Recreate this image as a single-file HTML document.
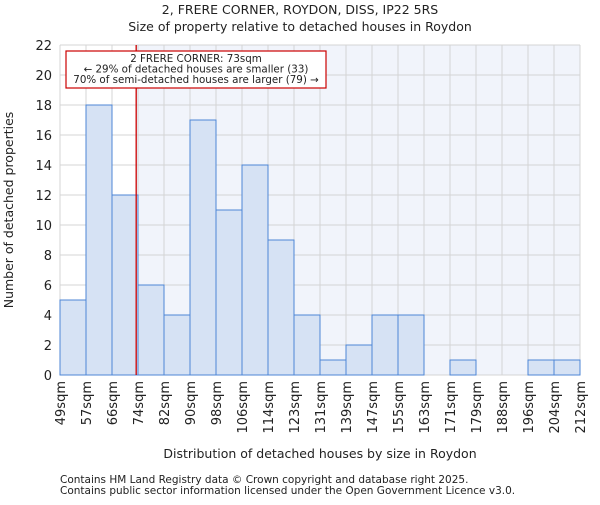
<!DOCTYPE html>
<html><head><meta charset="utf-8"><style>
body{margin:0;background:#fff;}
text{font-family:"DejaVu Sans","Liberation Sans",sans-serif;fill:#222;}
</style></head><body>
<svg id="chart" width="600" height="500" xmlns="http://www.w3.org/2000/svg">
<text x="300" y="14" font-size="12.5" text-anchor="middle">2, FRERE CORNER, ROYDON, DISS, IP22 5RS</text>
<text x="300" y="31" font-size="12.5" text-anchor="middle">Size of property relative to detached houses in Roydon</text>
<g id="plot"></g>
<text x="320" y="458" font-size="12.5" text-anchor="middle">Distribution of detached houses by size in Roydon</text>
<text transform="translate(13,210) rotate(-90)" font-size="12.5" text-anchor="middle">Number of detached properties</text>
<text x="60" y="483" font-size="10.5">Contains HM Land Registry data © Crown copyright and database right 2025.</text>
<text x="60" y="494" font-size="10.5">Contains public sector information licensed under the Open Government Licence v3.0.</text>
</svg>
<script>
const binLabels=["49sqm","57sqm","66sqm","74sqm","82sqm","90sqm","98sqm","106sqm","114sqm","123sqm","131sqm","139sqm","147sqm","155sqm","163sqm","171sqm","179sqm","188sqm","196sqm","204sqm","212sqm"];
const counts=[5,18,12,6,4,17,11,14,9,4,1,2,4,4,0,1,0,0,1,1];
const yTicks=[0,2,4,6,8,10,12,14,16,18,20,22];
const markerBin=2.93;
const annotLines=["2 FRERE CORNER: 73sqm","← 29% of detached houses are smaller (33)","70% of semi-detached houses are larger (79) →"];
const NS="http://www.w3.org/2000/svg";
const L=60,R=580,T=45,B=375,yMax=22;
const bw=(R-L)/counts.length;
const xs=i=>L+i*bw, ys=v=>B-(B-T)*v/yMax;
const g=document.getElementById('plot');
function mk(t,a){const e=document.createElementNS(NS,t);for(const k in a)e.setAttribute(k,a[k]);g.appendChild(e);return e;}
let e=mk('rect',{x:L,y:T,width:R-L,height:B-T,fill:'#fff'});

const mx=xs(markerBin);
e=mk('rect',{x:mx,y:T,width:R-mx,height:B-T,fill:'#f1f4fb'});

yTicks.forEach(v=>{
 e=mk('line',{x1:L,x2:R,y1:ys(v),y2:ys(v),stroke:'#d4d4d4','stroke-width':1});
 
 e=mk('text',{x:L-8,y:ys(v)+5,'font-size':13,'text-anchor':'end'});e.textContent=v;
 
});
binLabels.forEach((l,i)=>{
 e=mk('line',{x1:xs(i),x2:xs(i),y1:T,y2:B,stroke:'#d4d4d4','stroke-width':1});
 
 e=mk('text',{transform:`translate(${xs(i)+5},${B+6}) rotate(-90)`,'font-size':13,'text-anchor':'end'});e.textContent=l;
 
});
counts.forEach((c,i)=>{
 if(c<=0)return;
 e=mk('rect',{x:xs(i),y:ys(c),width:bw,height:B-ys(c),fill:'#d6e2f4',stroke:'#4d86d6','stroke-width':1});
 
});
e=mk('line',{x1:mx,x2:mx,y1:T,y2:B,stroke:'#cc0000','stroke-width':1.3});

e=mk('rect',{x:66,y:51,width:260,height:37,fill:'#fff',stroke:'#cc0000','stroke-width':1.2});

annotLines.forEach((t,i)=>{
 e=mk('text',{x:196,y:62+i*10.5,'font-size':10.3,'text-anchor':'middle'});e.textContent=t;
 
});
</script>
</body></html>
